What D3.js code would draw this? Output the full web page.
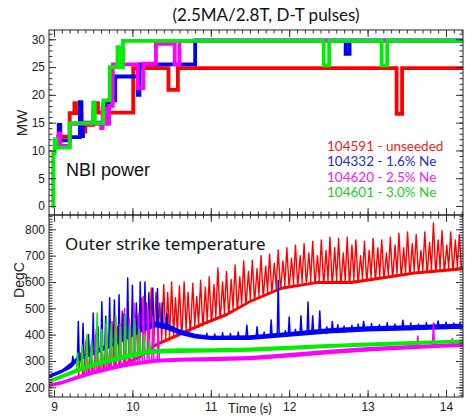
<!DOCTYPE html>
<html>
<head>
<meta charset="utf-8">
<script src="https://cdn.jsdelivr.net/npm/d3@7"></script>
<style>
body { margin: 0; background: #fff; }
svg { display: block; }
.tick line { stroke: #333; }
.tick text { font-family: "Liberation Sans", Arial, sans-serif; font-size: 12px; fill: #222; }
</style>
</head>
<body>
<svg></svg>
<script>
const width = 465;
const height = 416;

// series names + colours
const shots = ["104591 - unseeded", "104332 - 1.6% Ne", "104620 - 2.5% Ne", "104601 - 3.0% Ne"];
const traceColors = ["#ff0000", "#0000ff", "#ff00ff", "#00ee00"];
const legendColors = ["#ee2222", "#2a2ad0", "#ee22ee", "#22cc22"];

// NBI power steps [time s, MW]
const redPower = [[9.03,12.5],[9.2,16.7],[9.26,18.5],[9.28,16.7],[9.35,14.6],[9.38,13.4],[9.4,14.6],[9.5,16.8],[9.54,18.5],[9.56,16.8],[10.01,24.8],[10.46,20.9],[10.58,24.8],[13.37,16.6],[13.44,24.8],[14.22,24.8]];
const bluePower = [[9.03,11.8],[9.06,14.6],[9.08,11.8],[9.2,12.4],[9.33,18.7],[9.35,12.6],[9.37,15.0],[9.63,18.4],[9.66,15.0],[9.7,19.0],[9.78,23.3],[10.07,20.0],[10.09,25.5],[10.8,29.8],[12.72,27.4],[12.77,29.8],[14.22,29.8]];
const magentaPower = [[9.03,10.8],[9.06,13.0],[9.08,10.8],[9.2,14.8],[9.6,14.0],[9.62,17.5],[9.66,14.8],[9.7,18.0],[9.75,25.5],[10.07,21.2],[10.14,25.6],[10.3,29.2],[10.54,25.5],[10.6,29.7],[14.22,29.7]];
const greenPower = [[8.97,0],[8.99,9.5],[9.01,12.0],[9.03,10.5],[9.2,14.9],[9.5,18.6],[9.52,14.9],[9.63,19.0],[9.71,25.0],[9.81,28.6],[9.83,25.0],[9.88,29.7],[12.44,25.3],[12.51,29.7],[13.18,25.3],[13.25,29.7],[14.22,29.7]];

// outer strike temperature: noisy base band [time, low, high]
const redBand = [[8.94,203,213],[9.1,214,224],[9.3,232,243],[9.5,250,261],[9.7,265,276],[9.9,282,294],[10.1,310,322],[10.3,355,367],[10.6,395,407],[10.9,435,447],[11.2,470,482],[11.5,520,532],[11.9,570,582],[12.35,592,604],[12.8,592,605],[13.2,610,622],[13.6,628,640],[14.05,640,652],[14.22,645,657]];
const blueBand = [[8.94,234,250],[9.1,254,268],[9.22,272,296],[9.3,298,316],[9.5,322,340],[9.7,347,366],[9.9,377,396],[10.1,407,428],[10.3,428,450],[10.45,418,440],[10.6,400,420],[10.8,385,403],[11.0,380,396],[11.5,380,398],[12.0,392,410],[12.5,404,424],[13.0,412,432],[13.5,416,436],[14.0,420,440],[14.22,422,441]];
const magentaBand = [[8.94,200,214],[9.1,211,224],[9.3,231,246],[9.5,249,264],[9.7,263,278],[9.9,276,291],[10.1,286,300],[10.3,293,308],[10.6,297,312],[11.0,299,315],[11.5,303,319],[12.0,313,330],[12.5,326,343],[13.0,336,353],[13.5,344,360],[14.0,351,366],[14.22,353,368]];
const greenBand = [[8.94,216,231],[9.1,233,249],[9.3,256,273],[9.5,276,293],[9.7,291,310],[9.9,306,325],[10.1,319,337],[10.3,327,345],[10.6,330,348],[11.0,332,348],[11.5,335,351],[12.0,342,358],[12.5,349,364],[13.0,355,370],[13.5,360,375],[14.0,366,380],[14.22,368,382]];

// spikes [time, base, peak]
const redSpikes = [[9.34,246,330],[9.41,250,380],[9.47,256,350],[9.54,260,420],[9.61,266,360],[9.67,270,400],[9.74,276,450],[9.81,282,430],[9.87,288,490],[9.94,294,460],[10.0,302,500],[10.06,314,470],[10.12,326,540],[10.18,340,520],[10.24,352,577],
  [10.30,365,560],[10.35,368,520],[10.40,372,590],[10.45,378,560],[10.50,385,600],[10.55,390,540],[10.60,400,585],[10.66,405,600],[10.71,412,560],[10.77,420,595],[10.82,425,545],[10.87,432,607],[10.93,440,580],[10.98,447,620],[11.04,455,590],[11.09,465,653],[11.15,470,600],[11.20,478,640],[11.26,485,610],[11.31,495,665],[11.37,505,620],[11.42,515,680],[11.48,525,640],[11.53,530,683],[11.59,540,650],[11.64,548,700],[11.70,555,660],[11.75,562,705],[11.81,570,670],[11.86,575,722],[11.92,580,680],[11.97,585,730],[12.03,588,690],[12.08,592,740],[12.14,595,700],[12.19,598,745],[12.25,600,710],[12.30,600,755],[12.36,600,700],[12.41,598,760],[12.47,597,720],[12.52,596,770],[12.58,596,730],[12.63,596,765],[12.69,597,710],[12.74,598,770],[12.80,600,740],[12.85,603,760],[12.91,606,700],[12.96,608,755],[13.02,610,720],[13.07,612,765],[13.13,614,730],[13.18,615,760],[13.24,618,710],[13.29,620,770],[13.35,622,740],[13.40,625,785],[13.46,627,730],[13.51,630,790],[13.57,632,745],[13.62,634,780],[13.68,636,720],[13.73,638,790],[13.79,640,750],[13.84,642,824],[13.90,643,760],[13.95,644,795],[14.01,645,740],[14.06,646,790],[14.12,648,760],[14.17,650,780]];
const blueSpikes = [[9.24,290,318],[9.31,305,450],[9.37,315,443],[9.44,322,400],[9.5,330,482],[9.56,336,430],[9.61,342,525],[9.66,350,470],[9.71,358,540],[9.77,366,532],[9.83,374,551],[9.88,380,480],[9.94,390,615],[10.0,398,588],[10.05,405,520],[10.1,412,600],[10.16,420,600],[10.21,428,560],[10.26,432,577],[10.32,435,575],[10.38,430,520],[10.44,425,480],
  [10.95,384,405],[11.05,382,402],[11.15,381,408],[11.25,382,404],[11.35,383,410],[11.46,392,436],[11.59,392,430],[11.68,388,410],[11.77,395,456],[11.86,398,607],[11.95,392,415],[12.0,400,467],[12.08,396,420],[12.15,405,472],[12.24,408,524],[12.3,410,472],[12.39,412,490],[12.48,404,430],[12.55,415,450],[12.62,406,438],[12.7,408,432],[12.8,410,436],[12.88,412,440],[12.95,425,450],[13.05,414,442],[13.15,414,438],[13.25,415,445],[13.35,416,440],[13.45,428,455],[13.55,417,444],[13.65,418,440],[13.75,419,446],[13.85,420,440],[13.9,430,452],[14.0,421,448],[14.1,422,444],[14.18,422,446]];
const magentaSpikes = [[9.4,250,320],[9.47,255,360],[9.53,258,400],[9.6,262,380],[9.66,266,440],[9.72,270,420],[9.78,274,470],[9.84,278,440],[9.9,280,500],[9.96,283,460],[10.02,286,520],[10.08,290,480],[10.14,292,545],[10.2,295,500],[10.26,298,470],[10.33,300,420],[13.64,350,395],[13.84,355,444],[14.08,360,385]];
const greenSpikes = [[9.3,265,330],[9.36,272,360],[9.42,278,400],[9.48,284,380],[9.55,290,482],[9.61,294,420],[9.67,298,460],[9.73,302,440],[9.79,308,470],[9.85,312,430],[9.91,316,475],[9.97,320,440],[10.03,324,460],[10.09,328,420],[10.15,330,400],[10.22,333,380]];

const xMajor = [9, 10, 11, 12, 13, 14];
const yTopMajor = [0, 5, 10, 15, 20, 25, 30];
const yBotMajor = [200, 300, 400, 500, 600, 700, 800];

const svg = d3.select("svg")
  .attr("width", width)
  .attr("height", height);

const left = 49, right = 463, top1 = 30, mid = 215, bottom = 397;

const x = d3.scaleLinear().domain([8.936, 14.217]).range([left, right]);
const yTop = d3.scaleLinear().domain([-1.62, 31.67]).range([mid, top1]);
const yBot = d3.scaleLinear().domain([163.2, 854.3]).range([bottom, mid]);

const defs = svg.append("defs");
defs.append("clipPath").attr("id", "clipTop")
  .append("rect").attr("x", left).attr("y", top1).attr("width", right - left).attr("height", mid - top1);
defs.append("clipPath").attr("id", "clipBot")
  .append("rect").attr("x", left).attr("y", mid).attr("width", right - left).attr("height", bottom - mid);

// ---- top panel: NBI power
const gTop = svg.append("g").attr("clip-path", "url(#clipTop)");
const stepLine = d3.line()
  .x(d => x(d[0]))
  .y(d => yTop(d[1]))
  .curve(d3.curveStepAfter);

[redPower, bluePower, magentaPower, greenPower].forEach((s, i) => {
  gTop.append("path")
    .attr("d", stepLine(s))
    .attr("fill", "none")
    .attr("stroke", traceColors[i])
    .attr("stroke-width", 3.8);
});

// ---- bottom panel: temperature
const gBot = svg.append("g").attr("clip-path", "url(#clipBot)");
const band = d3.area()
  .x(d => x(d[0]))
  .y0(d => yBot(d[1]))
  .y1(d => yBot(d[2]));

function spikePath(spikes, dt) {
  const p = d3.path();
  spikes.forEach(d => {
    p.moveTo(x(d[0] - dt), yBot(d[1]));
    p.lineTo(x(d[0]), yBot(d[2]));
    p.lineTo(x(d[0] + dt), yBot(d[1]));
  });
  return p.toString();
}

const bands = [redBand, blueBand, magentaBand, greenBand];
const spikes = [redSpikes, blueSpikes, magentaSpikes, greenSpikes];
const dts = [0.027, 0.012, 0.014, 0.014];

bands.forEach((b, i) => {
  gBot.append("path")
    .attr("d", band(b))
    .attr("fill", traceColors[i]);
  gBot.append("path")
    .attr("d", spikePath(spikes[i], dts[i]))
    .attr("fill", "none")
    .attr("stroke", traceColors[i])
    .attr("stroke-width", i === 0 ? 1.4 : 1.5)
    .attr("stroke-linejoin", "round");
});

// ---- axes (ticks inward on all four sides)
function ax(g, axis) {
  g.call(axis);
  g.select(".domain").remove();
}
const xMinor = d3.range(90, 143).map(d => d / 10);
const yTopMinor = d3.range(0, 32);
const yBotMinor = d3.range(170, 860, 10);

// top panel
ax(svg.append("g").attr("transform", `translate(${left},0)`),
  d3.axisLeft(yTop).tickValues(yTopMajor).tickSize(-7).tickPadding(4));
ax(svg.append("g").attr("transform", `translate(${left},0)`),
  d3.axisLeft(yTop).tickValues(yTopMinor).tickSize(-3.5).tickFormat(""));
ax(svg.append("g").attr("transform", `translate(${right},0)`),
  d3.axisRight(yTop).tickValues(yTopMajor).tickSize(-7).tickFormat(""));
ax(svg.append("g").attr("transform", `translate(${right},0)`),
  d3.axisRight(yTop).tickValues(yTopMinor).tickSize(-3.5).tickFormat(""));
ax(svg.append("g").attr("transform", `translate(0,${top1})`),
  d3.axisTop(x).tickValues(xMajor).tickSize(-7).tickFormat(""));
ax(svg.append("g").attr("transform", `translate(0,${top1})`),
  d3.axisTop(x).tickValues(xMinor).tickSize(-3.5).tickFormat(""));
ax(svg.append("g").attr("transform", `translate(0,${mid})`),
  d3.axisBottom(x).tickValues(xMajor).tickSize(-7).tickFormat(""));
ax(svg.append("g").attr("transform", `translate(0,${mid})`),
  d3.axisBottom(x).tickValues(xMinor).tickSize(-3.5).tickFormat(""));

// bottom panel
ax(svg.append("g").attr("transform", `translate(${left},0)`),
  d3.axisLeft(yBot).tickValues(yBotMajor).tickSize(-7).tickPadding(4));
ax(svg.append("g").attr("transform", `translate(${left},0)`),
  d3.axisLeft(yBot).tickValues(yBotMinor).tickSize(-3.5).tickFormat(""));
ax(svg.append("g").attr("transform", `translate(${right},0)`),
  d3.axisRight(yBot).tickValues(yBotMajor).tickSize(-7).tickFormat(""));
ax(svg.append("g").attr("transform", `translate(${right},0)`),
  d3.axisRight(yBot).tickValues(yBotMinor).tickSize(-3.5).tickFormat(""));
ax(svg.append("g").attr("transform", `translate(0,${mid})`),
  d3.axisTop(x).tickValues(xMajor).tickSize(-7).tickFormat(""));
ax(svg.append("g").attr("transform", `translate(0,${mid})`),
  d3.axisTop(x).tickValues(xMinor).tickSize(-3.5).tickFormat(""));
ax(svg.append("g").attr("transform", `translate(0,${bottom})`),
  d3.axisBottom(x).tickValues(xMajor).tickSize(-7).tickPadding(5).tickFormat(d3.format("d")));
ax(svg.append("g").attr("transform", `translate(0,${bottom})`),
  d3.axisBottom(x).tickValues(xMinor).tickSize(-3.5).tickFormat(""));

// frames
svg.append("rect").attr("x", left).attr("y", top1).attr("width", right - left).attr("height", mid - top1)
  .attr("fill", "none").attr("stroke", "#222").attr("stroke-width", 1);
svg.append("rect").attr("x", left).attr("y", mid).attr("width", right - left).attr("height", bottom - mid)
  .attr("fill", "none").attr("stroke", "#222").attr("stroke-width", 1);

// ---- texts
svg.append("text")
  .attr("x", 266).attr("y", 21)
  .attr("text-anchor", "middle")
  .style("font-family", "Lato, sans-serif").style("font-size", "17px").attr("fill", "#111")
  .text("(2.5MA/2.8T, D-T pulses)");

svg.append("text")
  .attr("transform", "translate(27,123) rotate(-90)")
  .attr("text-anchor", "middle")
  .style("font-family", "'Liberation Sans', Arial, sans-serif").style("font-size", "15px").attr("fill", "#222")
  .text("MW");

svg.append("text")
  .attr("transform", "translate(24,280) rotate(-90)")
  .attr("text-anchor", "middle")
  .style("font-family", "'Liberation Sans', Arial, sans-serif").style("font-size", "14px").attr("fill", "#222")
  .text("DegC");

svg.append("text")
  .attr("x", 66).attr("y", 176)
  .style("font-family", "'Liberation Sans', Arial, sans-serif").style("font-size", "18px").attr("fill", "#111")
  .text("NBI power");

svg.append("text")
  .attr("x", 65).attr("y", 250)
  .style("font-family", "'Noto Sans', sans-serif").style("font-size", "17px").attr("fill", "#111")
  .text("Outer strike temperature");

svg.append("text")
  .attr("x", 228).attr("y", 413)
  .style("font-family", "Lato, sans-serif").style("font-size", "13px").attr("fill", "#222")
  .text("Time (s)");

svg.append("g").selectAll("text")
  .data(shots)
  .enter()
  .append("text")
  .attr("x", 327)
  .attr("y", (d, i) => 151 + i * 15.4)
  .style("font-family", "Lato, sans-serif").style("font-size", "13.5px")
  .attr("fill", (d, i) => legendColors[i])
  .text(d => d);
</script>
</body>
</html>
